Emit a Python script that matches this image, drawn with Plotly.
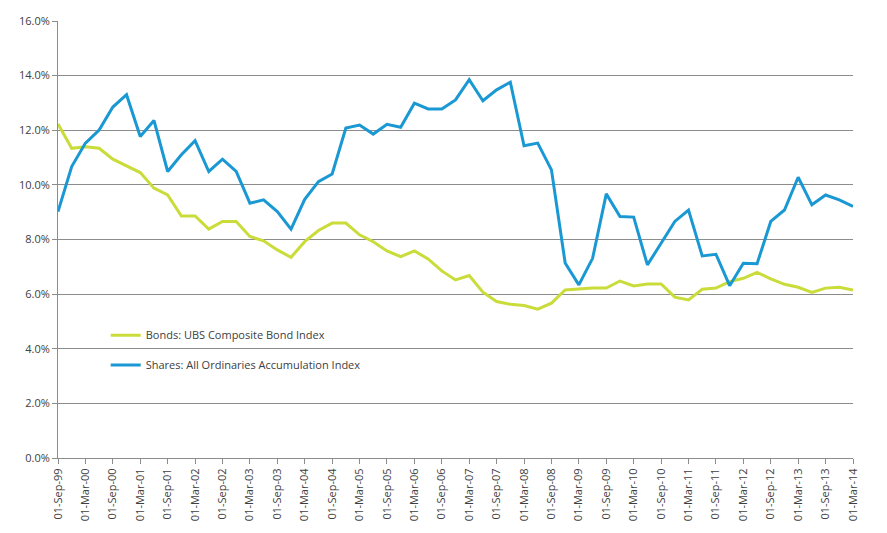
import plotly.graph_objects as go

dates = [
    "01-Sep-99", "01-Dec-99", "01-Mar-00", "01-Jun-00", "01-Sep-00", "01-Dec-00",
    "01-Mar-01", "01-Jun-01", "01-Sep-01", "01-Dec-01", "01-Mar-02", "01-Jun-02",
    "01-Sep-02", "01-Dec-02", "01-Mar-03", "01-Jun-03", "01-Sep-03", "01-Dec-03",
    "01-Mar-04", "01-Jun-04", "01-Sep-04", "01-Dec-04", "01-Mar-05", "01-Jun-05",
    "01-Sep-05", "01-Dec-05", "01-Mar-06", "01-Jun-06", "01-Sep-06", "01-Dec-06",
    "01-Mar-07", "01-Jun-07", "01-Sep-07", "01-Dec-07", "01-Mar-08", "01-Jun-08",
    "01-Sep-08", "01-Dec-08", "01-Mar-09", "01-Jun-09", "01-Sep-09", "01-Dec-09",
    "01-Mar-10", "01-Jun-10", "01-Sep-10", "01-Dec-10", "01-Mar-11", "01-Jun-11",
    "01-Sep-11", "01-Dec-11", "01-Mar-12", "01-Jun-12", "01-Sep-12", "01-Dec-12",
    "01-Mar-13", "01-Jun-13", "01-Sep-13", "01-Dec-13", "01-Mar-14",
]

bonds = [
    12.23, 11.34, 11.40, 11.34, 10.94, 10.70, 10.45, 9.88, 9.63, 8.86,
    8.86, 8.38, 8.66, 8.66, 8.11, 7.95, 7.62, 7.35, 7.92, 8.33,
    8.60, 8.60, 8.17, 7.92, 7.58, 7.37, 7.58, 7.29, 6.85, 6.52,
    6.68, 6.07, 5.73, 5.63, 5.58, 5.45, 5.67, 6.15, 6.18, 6.22,
    6.22, 6.48, 6.30, 6.37, 6.37, 5.89, 5.79, 6.18, 6.22, 6.46,
    6.58, 6.80, 6.56, 6.36, 6.25, 6.06, 6.22, 6.25, 6.15,
]

shares = [
    9.02, 10.67, 11.53, 12.01, 12.85, 13.30, 11.77, 12.36, 10.49, 11.10,
    11.62, 10.49, 10.94, 10.49, 9.33, 9.45, 9.02, 8.38, 9.47, 10.12,
    10.40, 12.08, 12.19, 11.86, 12.22, 12.11, 12.99, 12.78, 12.78, 13.11,
    13.85, 13.08, 13.48, 13.76, 11.43, 11.53, 10.55, 7.14, 6.34, 7.31,
    9.67, 8.84, 8.82, 7.07, 7.86, 8.66, 9.08, 7.40, 7.46, 6.31,
    7.13, 7.11, 8.66, 9.08, 10.28, 9.27, 9.63, 9.45, 9.21,
]

y_ticks = [0, 2, 4, 6, 8, 10, 12, 14, 16]
y_tick_labels = ["0.0%", "2.0%", "4.0%", "6.0%", "8.0%", "10.0%", "12.0%", "14.0%", "16.0%"]

FONT = "Open Sans"
TEXT = "#404040"
GRID = "#8c8c8c"

x_idx = list(range(len(dates)))

fig = go.Figure()
fig.add_trace(go.Scatter(
    x=x_idx, y=bonds, mode="lines", name="Bonds: UBS Composite Bond Index",
    line=dict(color="#C9DC3A", width=3), legend="legend", showlegend=True,
))
fig.add_trace(go.Scatter(
    x=x_idx, y=shares, mode="lines", name="Shares: All Ordinaries Accumulation Index",
    line=dict(color="#1A98D3", width=3), legend="legend2", showlegend=True,
))

fig.update_layout(
    width=887, height=533,
    showlegend=True,
    margin=dict(l=58, r=34, t=21, b=75),
    plot_bgcolor="white", paper_bgcolor="white",
    font=dict(family=FONT, size=11, color=TEXT),
    legend=dict(x=0.06, y=0.281, xanchor="left", yanchor="middle",
                bgcolor="rgba(0,0,0,0)", font=dict(family=FONT, size=11, color=TEXT),
                itemwidth=30),
    legend2=dict(x=0.06, y=0.213, xanchor="left", yanchor="middle",
                 bgcolor="rgba(0,0,0,0)", font=dict(family=FONT, size=11, color=TEXT),
                 itemwidth=30),
)

fig.update_xaxes(
    range=[0, len(dates) - 1],
    tickmode="array",
    tickvals=x_idx[::2],
    ticktext=dates[::2],
    tickangle=-90,
    ticks="outside", ticklen=5, tickcolor=GRID,
    showline=True, linecolor=GRID, linewidth=1,
    showgrid=False, zeroline=False,
    tickfont=dict(family=FONT, size=11, color=TEXT),
)
fig.update_yaxes(
    range=[0, 16],
    tickmode="array",
    tickvals=y_ticks,
    ticktext=y_tick_labels,
    ticks="outside", ticklen=5, tickcolor=GRID,
    showline=True, linecolor=GRID, linewidth=1,
    showgrid=True, gridcolor=GRID, gridwidth=1,
    zeroline=False,
    tickfont=dict(family=FONT, size=11, color=TEXT),
)

fig.write_html("out.html", config={"displayModeBar": False},
               post_script="document.body.style.margin='0';")
